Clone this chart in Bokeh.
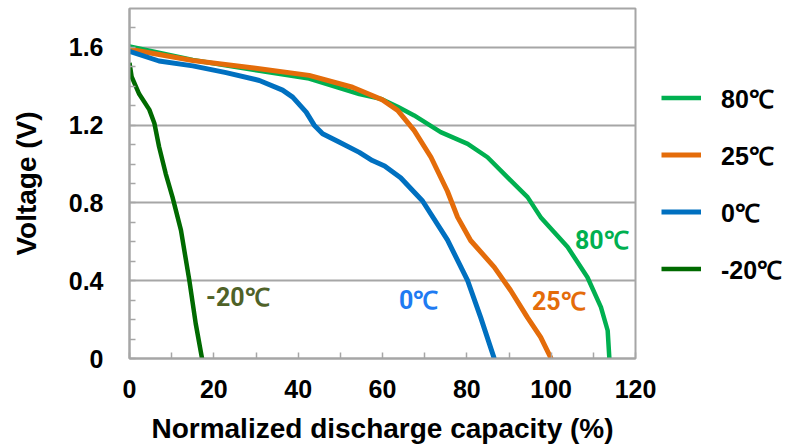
from bokeh.plotting import figure
from bokeh.models import Range1d, FixedTicker, Legend, LegendItem
from bokeh.core.properties import value
from bokeh.embed import file_html
from bokeh.resources import INLINE

# ---- data ----
x_m20 = [0, 0.5, 2.3, 4.7, 5.9, 7.0, 8.6, 10.2, 12.2, 14.2, 15.7, 17.2]
y_m20 = [1.52, 1.45, 1.36, 1.28, 1.21, 1.09, 0.95, 0.83, 0.66, 0.40, 0.18, 0.0]

x_0 = [0, 7, 15, 22.9, 30.8, 36.3, 38.7, 41.9, 43.8, 45.8, 49.7, 54.5, 57.6, 60.5, 64.3, 69.5, 75.4, 80.2, 83.3, 86.5]
y_0 = [1.58, 1.53, 1.505, 1.47, 1.43, 1.38, 1.344, 1.267, 1.2, 1.156, 1.113, 1.06, 1.018, 0.99, 0.93, 0.81, 0.61, 0.40, 0.21, 0.0]

x_25 = [0, 15, 30.8, 42.6, 52.9, 60, 63.6, 67.5, 71.5, 75.4, 77.8, 80.9, 86.5, 90.4, 94.4, 97.5, 100]
y_25 = [1.59, 1.533, 1.49, 1.456, 1.395, 1.33, 1.276, 1.173, 1.035, 0.86, 0.727, 0.607, 0.47, 0.35, 0.21, 0.11, 0.0]

x_80 = [0, 15, 30.8, 42.6, 54.5, 59.6, 63.6, 67.5, 73.8, 80.2, 84.9, 89.6, 94.4, 97.5, 103.9, 108.6, 111.8, 113.4, 113.8]
y_80 = [1.605, 1.535, 1.48, 1.44, 1.36, 1.335, 1.295, 1.25, 1.164, 1.104, 1.035, 0.933, 0.83, 0.727, 0.573, 0.418, 0.264, 0.144, 0.0]

series_names = ["80℃", "25℃", "0℃", "-20℃"]

x_ticks = [0, 20, 40, 60, 80, 100, 120]
x_minor = [10, 30, 50, 70, 90, 110]
y_ticks = [0, 0.4, 0.8, 1.2, 1.6]
y_tick_labels = ["0", "0.4", "0.8", "1.2", "1.6"]
y_minor = [0.1, 0.2, 0.3, 0.5, 0.6, 0.7, 0.9, 1.0, 1.1, 1.3, 1.4, 1.5, 1.7]

label_x = [112.0, 101.8, 68.6, 25.7]
label_y = [0.607, 0.293, 0.298, 0.314]

# ---- styles ----
line_colors = ["#00b050", "#e46c0a", "#0070c0", "#006a00"]
label_colors = ["#00b050", "#e46c0a", "#1f7bf2", "#4f6228"]
FONT = "Liberation Sans"

p = figure(frame_width=506, frame_height=350, output_backend="svg", toolbar_location=None,
           x_range=Range1d(0, 120), y_range=Range1d(0, 1.8),
           min_border_left=129, min_border_right=150, min_border_top=8, min_border_bottom=86)

p.background_fill_color = "white"
p.border_fill_color = "white"
p.outline_line_color = "#a6a6a6"
p.outline_line_width = 2

p.xgrid.visible = False
p.ygrid.ticker = FixedTicker(ticks=y_ticks)
p.ygrid.grid_line_color = "#a6a6a6"
p.ygrid.grid_line_width = 2

p.xaxis.ticker = FixedTicker(ticks=x_ticks, minor_ticks=x_minor)
p.yaxis.ticker = FixedTicker(ticks=y_ticks, minor_ticks=y_minor)
p.yaxis.major_label_overrides = {t: l for t, l in zip(y_ticks, y_tick_labels)}

for ax in (p.xaxis[0], p.yaxis[0]):
    ax.axis_line_color = "#a6a6a6"
    ax.axis_line_width = 2
    ax.major_tick_in = 6
    ax.major_tick_out = 0
    ax.minor_tick_in = 6
    ax.minor_tick_out = 0
    ax.major_tick_line_color = "#a6a6a6"
    ax.minor_tick_line_color = "#a6a6a6"
    ax.major_tick_line_width = 1.5
    ax.minor_tick_line_width = 1.5
    ax.major_label_text_font = FONT
    ax.major_label_text_font_style = "bold"
    ax.major_label_text_font_size = "25px"
    ax.major_label_text_color = "black"
    ax.axis_label_text_font = FONT
    ax.axis_label_text_font_style = "bold"
    ax.axis_label_text_font_size = "28px"
    ax.axis_label_text_color = "black"

p.xaxis.axis_label = "Normalized discharge capacity (%)"
p.yaxis.axis_label = "Voltage (V)"
p.xaxis.major_label_standoff = 21
p.yaxis.major_label_standoff = 26
p.xaxis.axis_label_standoff = 12
p.yaxis.axis_label_standoff = 24

xs = [x_80, x_25, x_0, x_m20]
ys = [y_80, y_25, y_0, y_m20]
widths = [4.5, 5, 5, 4.5]
renderers = []
for x, y, c, w in zip(xs, ys, line_colors, widths):
    r = p.line(x, y, line_color=c, line_width=w, line_join="round")
    renderers.append(r)

for lx, ly, name, c in zip(label_x, label_y, series_names, label_colors):
    p.text(x=[lx], y=[ly], text=[name], text_color=c, text_font=value("Roboto"),
           text_font_style="bold", text_font_size="25px",
           text_align="center", text_baseline="middle")

legend = Legend(items=[LegendItem(label=n, renderers=[r]) for n, r in zip(series_names, renderers)],
                location="center_left")
legend.border_line_color = None
legend.background_fill_alpha = 0
legend.label_text_font = FONT
legend.label_text_font_style = "bold"
legend.label_text_font_size = "25px"
legend.label_text_color = "black"
legend.glyph_width = 40
legend.glyph_height = 30
legend.label_height = 30
legend.label_standoff = 20
legend.spacing = 23
legend.padding = 0
legend.margin = 26
p.add_layout(legend, "right")

open("out.html", "w").write(file_html(p, INLINE))
